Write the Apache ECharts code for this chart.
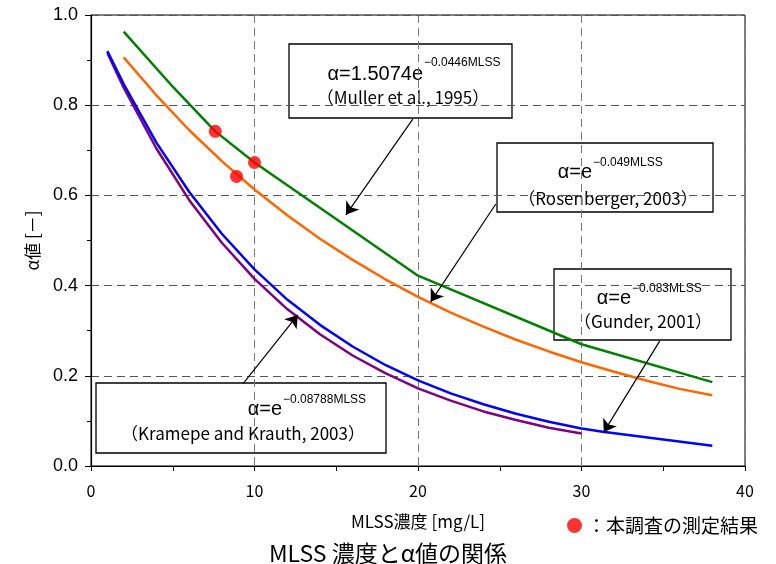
<!DOCTYPE html>
<html>
<head>
<meta charset="utf-8">
<script src="https://cdn.jsdelivr.net/npm/echarts@6/dist/echarts.min.js"></script>
<style>html,body{margin:0;padding:0;background:#fff;}#c{width:776px;height:564px;}</style>
</head>
<body>
<div id="c"></div>
<script>
// ---- data ----
const mullerMLSS = [2, 5, 7.6, 10, 20, 30, 38];
const mullerAlpha = [0.963, 0.841, 0.742, 0.673, 0.422, 0.270, 0.186];

const rosenMLSS = [2, 4, 6, 8, 10, 12, 14, 16, 18, 20, 22, 24, 26, 28, 30, 32, 34, 36, 38];
const rosenAlpha = [0.906, 0.822, 0.745, 0.676, 0.613, 0.556, 0.504, 0.457, 0.414, 0.375, 0.340, 0.309, 0.280, 0.254, 0.230, 0.209, 0.189, 0.171, 0.157];

const gunderMLSS = [1, 2, 4, 6, 8, 10, 12, 14, 16, 18, 20, 22, 24, 26, 28, 30, 31.3, 38];
const gunderAlpha = [0.920, 0.847, 0.717, 0.608, 0.515, 0.436, 0.369, 0.313, 0.265, 0.224, 0.190, 0.161, 0.137, 0.116, 0.098, 0.083, 0.076, 0.045];

const kramMLSS = [1, 2, 4, 6, 8, 10, 12, 14, 16, 18, 20, 22, 24, 26, 28, 30];
const kramAlpha = [0.916, 0.839, 0.704, 0.590, 0.495, 0.415, 0.348, 0.292, 0.245, 0.206, 0.172, 0.145, 0.121, 0.102, 0.085, 0.072];

const measuredMLSS = [7.6, 8.9, 10.0];
const measuredAlpha = [0.742, 0.642, 0.673];

// annotation arrows (data coordinates: [from], [to])
const arrowFrom = [[19.68, 0.769], [24.76, 0.581], [34.78, 0.277], [9.29, 0.182]];
const arrowTo = [[15.59, 0.557], [20.78, 0.364], [31.36, 0.075], [12.65, 0.335]];

const xTicks = [0, 10, 20, 30, 40];
const yTicks = [0.0, 0.2, 0.4, 0.6, 0.8, 1.0];

const titleText = 'MLSS 濃度とα値の関係';
const xName = 'MLSS濃度 [mg/L]';
const yName = 'α値 [－]';
const measuredName = '：本調査の測定結果';

const zip = (xs, ys) => xs.map((x, i) => [x, ys[i]]);

const JP = '"Noto Sans CJK JP", sans-serif';
const LS = '"Liberation Sans", Arial, sans-serif';

function box(x, y, w, h, split, y1, base, sup, y1s, line2, cx2, y2) {
  return {
    type: 'group', z: 100,
    children: [
      { type: 'rect', shape: { x: x, y: y, width: w, height: h },
        style: { fill: '#fff', stroke: '#000', lineWidth: 1.3 } },
      { type: 'text', style: { text: base, x: split, y: y1, fill: '#000', font: '20px ' + LS, align: 'right', verticalAlign: 'middle' } },
      { type: 'text', style: { text: sup, x: split + 1, y: y1s, fill: '#000', font: '12px ' + LS, align: 'left', verticalAlign: 'middle' } },
      { type: 'text', style: { text: line2, x: cx2, y: y2, fill: '#000', font: '17px ' + JP, align: 'center', verticalAlign: 'middle' } }
    ]
  };
}

const chart = echarts.init(document.getElementById('c'), null, { renderer: 'canvas' });
const option = {
  backgroundColor: '#fff',
  animation: false,
  title: {
    text: titleText, left: 'center', top: 537,
    textStyle: { fontSize: 23, fontWeight: 'normal', color: '#000', fontFamily: JP }
  },
  legend: {
    data: [{ name: measuredName, icon: 'circle' }],
    left: 562, top: 511, itemWidth: 15, itemHeight: 15, itemGap: 4,
    textStyle: { fontSize: 19, color: '#000', fontFamily: JP }
  },
  grid: { left: 91, right: 31, top: 15, bottom: 98, show: true, borderColor: '#000', borderWidth: 1, backgroundColor: 'transparent' },
  xAxis: {
    type: 'value', min: xTicks[0], max: xTicks[xTicks.length - 1], interval: 10,
    name: xName, nameLocation: 'middle', nameGap: 47,
    nameTextStyle: { fontSize: 17, color: '#000', fontFamily: JP },
    axisLine: { lineStyle: { color: '#000', width: 1.2 } },
    axisTick: { show: true, length: 5, lineStyle: { color: '#000' } },
    minorTick: { show: true, splitNumber: 2, length: 5, lineStyle: { color: '#000' } },
    axisLabel: { fontSize: 16, color: '#000', fontFamily: JP, margin: 17 },
    splitLine: { show: true, lineStyle: { color: '#777', type: [8, 5], width: 1 } }
  },
  yAxis: {
    type: 'value', min: yTicks[0], max: yTicks[yTicks.length - 1], interval: 0.2,
    name: yName, nameLocation: 'middle', nameGap: 50, nameRotate: 90,
    nameTextStyle: { fontSize: 17, color: '#000', fontFamily: JP },
    axisLine: { show: true, lineStyle: { color: '#000', width: 1.2 } },
    axisTick: { show: true, length: 6, lineStyle: { color: '#000' } },
    minorTick: { show: true, splitNumber: 2, length: 4, lineStyle: { color: '#000' } },
    axisLabel: { fontSize: 18, color: '#000', fontFamily: LS, margin: 13, formatter: v => v.toFixed(1) },
    splitLine: { show: true, lineStyle: { color: '#555', type: [8, 5], width: 1 } }
  },
  series: [
    { name: 'Muller', type: 'line', data: zip(mullerMLSS, mullerAlpha), showSymbol: false, symbol: 'none',
      lineStyle: { color: '#008000', width: 2.5 }, z: 3 },
    { name: 'Rosenberger', type: 'line', data: zip(rosenMLSS, rosenAlpha), showSymbol: false, symbol: 'none',
      lineStyle: { color: '#FF6600', width: 2.5 }, z: 3 },
    { name: 'Kramepe', type: 'line', data: zip(kramMLSS, kramAlpha), showSymbol: false, symbol: 'none',
      lineStyle: { color: '#800080', width: 2.5 }, z: 3 },
    { name: 'Gunder', type: 'line', data: zip(gunderMLSS, gunderAlpha), showSymbol: false, symbol: 'none',
      lineStyle: { color: '#0000FF', width: 2.5 }, z: 4 },
    { name: 'arrows', type: 'line', data: [], z: 5, itemStyle: { color: '#000' },
      markLine: {
        silent: true, animation: false, symbol: ['none', 'arrow'], symbolSize: 12,
        label: { show: false },
        itemStyle: { color: '#000' },
        lineStyle: { color: '#000', width: 1.2, type: 'solid' },
        data: arrowFrom.map((f, i) => [{ coord: f }, { coord: arrowTo[i] }])
      }
    },
    { name: measuredName, type: 'scatter', data: zip(measuredMLSS, measuredAlpha), symbol: 'circle', symbolSize: 13,
      itemStyle: { color: '#FF0000' }, z: 6 }
  ],
  graphic: [
    box(289, 44, 223, 74, 423, 74, 'α=1.5074e', '−0.0446MLSS', 63, '（Muller et al., 1995）', 403, 98),
    box(497, 143, 216, 69, 592, 172, 'α=e', '−0.049MLSS', 163, '（Rosenberger, 2003）', 608, 199),
    box(554, 269, 177, 71, 631, 298, 'α=e', '−0.083MLSS', 289, '（Gunder, 2001）', 643, 322),
    box(96, 383, 290, 70, 282, 409, 'α=e', '−0.08788MLSS', 400, '（Kramepe and Krauth, 2003）', 243, 434)
  ]
};
chart.setOption(option);
</script>
</body>
</html>
